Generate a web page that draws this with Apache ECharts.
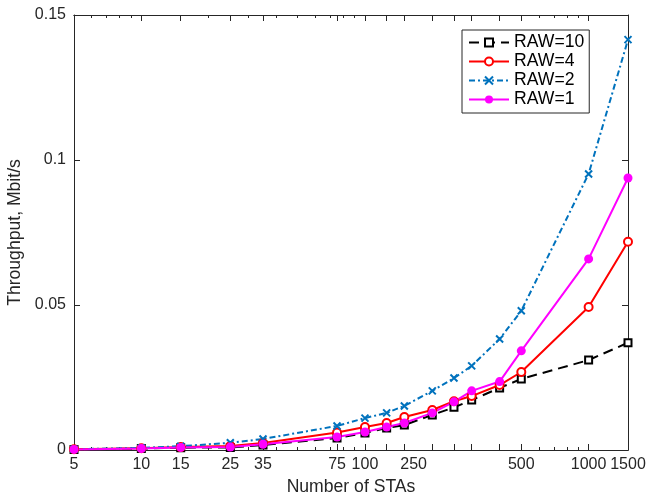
<!DOCTYPE html>
<html>
<head>
<meta charset="utf-8">
<script src="https://cdn.jsdelivr.net/npm/echarts@6/dist/echarts.min.js"></script>
<style>
html, body { margin: 0; padding: 0; background: #fff; }
#chart { width: 653px; height: 497px; }
</style>
</head>
<body>
<div id="chart"></div>
<script>
// throughput vs number of STAs, log x axis

var staCounts = [5, 10, 15, 25, 35, 75, 100, 125, 150, 200, 250, 300, 400, 500, 1000, 1500];
var raw10 = [0.0002, 0.0005, 0.0008, 0.0009, 0.0017, 0.0041, 0.0059, 0.0076, 0.0086, 0.0121, 0.0147, 0.0172, 0.0214, 0.0245, 0.031, 0.037];
var raw4 = [0.0003, 0.0006, 0.001, 0.0014, 0.0024, 0.006, 0.0079, 0.0093, 0.0114, 0.0138, 0.0168, 0.0186, 0.0224, 0.0269, 0.0493, 0.0718];
var raw2 = [0.0003, 0.0007, 0.0013, 0.0025, 0.0038, 0.0083, 0.011, 0.0128, 0.0152, 0.0204, 0.0248, 0.029, 0.0383, 0.048, 0.0952, 0.1415];
var raw1 = [0.0002, 0.0005, 0.0009, 0.001, 0.002, 0.0045, 0.0062, 0.0079, 0.0093, 0.0128, 0.0166, 0.0204, 0.0236, 0.0342, 0.0659, 0.0938];

// tick labels and where they sit (in STAs)
var tickLabels = ['5', '10', '15', '25', '35', '75', '100', '250', '500', '1000', '1500'];
var tickLabelAt = [5, 10, 15, 25, 35, 75, 100, 165, 500, 1000, 1500];
var minorTicks = [6, 7, 8, 9, 20, 30, 40, 50, 60, 70, 80, 90, 200, 600, 700, 800, 900];

var lg = function (v) { return Math.log10(v); };
var xMin = lg(5), xMax = lg(1500);
var axisCol = '#262626';
var font = 'Liberation Sans, Arial, sans-serif';

function pairs(ys) {
    return staCounts.map(function (n, i) { return [lg(n), ys[i]]; });
}

function xAx(pos, ticks, len, labels) {
    return {
        type: 'value', min: xMin, max: xMax, position: pos,
        splitLine: {show: false},
        axisLine: {show: true, onZero: false, lineStyle: {color: axisCol, width: 1}},
        axisTick: {show: true, inside: true, length: len, customValues: ticks.map(lg),
            lineStyle: {color: axisCol, width: 1}},
        axisLabel: labels ? {
            show: true, customValues: tickLabelAt.map(lg), margin: 7,
            color: axisCol, fontSize: 16, fontFamily: font,
            formatter: function (v) {
                for (var i = 0; i < tickLabelAt.length; i++) {
                    if (Math.abs(lg(tickLabelAt[i]) - v) < 1e-6) return tickLabels[i];
                }
                return '';
            }
        } : {show: false}
    };
}

var chart = echarts.init(document.getElementById('chart'));

var bottomMain = xAx('bottom', staCounts, 6, true);
bottomMain.name = 'Number of STAs';
bottomMain.nameLocation = 'middle';
bottomMain.nameGap = 28;
bottomMain.nameTextStyle = {color: axisCol, fontSize: 17.6, fontFamily: font};

chart.setOption({
    animation: false,
    backgroundColor: '#fff',
    grid: {left: 74, right: 25, top: 15, bottom: 47, containLabel: false, outerBoundsMode: 'none'},
    legend: {
        orient: 'vertical', left: 462, top: 30,
        backgroundColor: '#fff', borderColor: axisCol, borderWidth: 1,
        borderRadius: 0,
        padding: [3, 5, 4, 6], itemGap: 0, itemWidth: 40, itemHeight: 10,
        textStyle: {color: '#000', fontSize: 17.6, lineHeight: 19, fontFamily: font},
        data: ['RAW=10', 'RAW=4', 'RAW=2', 'RAW=1']
    },
    xAxis: [
        bottomMain,
        xAx('bottom', minorTicks, 3, false),
        xAx('top', staCounts, 6, false),
        xAx('top', minorTicks, 3, false)
    ],
    yAxis: [
        {
            type: 'value', min: 0, max: 0.15, interval: 0.05, position: 'left',
            name: 'Throughput, Mbit/s', nameLocation: 'middle', nameGap: 40,
            nameTextStyle: {color: axisCol, fontSize: 17.6, fontFamily: font},
            splitLine: {show: false},
            axisLine: {show: true, lineStyle: {color: axisCol, width: 1}},
            axisTick: {show: true, inside: true, length: 6, lineStyle: {color: axisCol}},
            axisLabel: {color: axisCol, fontSize: 16, fontFamily: font, margin: 8}
        },
        {
            type: 'value', min: 0, max: 0.15, interval: 0.05, position: 'right',
            splitLine: {show: false},
            axisLine: {show: true, lineStyle: {color: axisCol, width: 1}},
            axisTick: {show: true, inside: true, length: 6, lineStyle: {color: axisCol}},
            axisLabel: {show: false}
        }
    ],
    series: [
        {
            name: 'RAW=10', type: 'line', data: pairs(raw10),
            symbol: 'emptyRect', symbolSize: 7,
            itemStyle: {color: '#000', borderWidth: 1.5},
            lineStyle: {color: '#000', width: 2, type: [10, 6]}
        },
        {
            name: 'RAW=4', type: 'line', data: pairs(raw4),
            symbol: 'emptyCircle', symbolSize: 8,
            itemStyle: {color: '#ff0000', borderWidth: 1.5},
            lineStyle: {color: '#ff0000', width: 2}
        },
        {
            name: 'RAW=2', type: 'line', data: pairs(raw2),
            symbol: 'path://M0,0L10,10M10,0L0,10', symbolSize: 7,
            itemStyle: {color: '#0072bd', borderColor: '#0072bd', borderWidth: 2},
            lineStyle: {color: '#0072bd', width: 2, type: [6, 3, 2, 3]}
        },
        {
            name: 'RAW=1', type: 'line', data: pairs(raw1),
            symbol: 'circle', symbolSize: 9,
            itemStyle: {color: '#ff00ff'},
            lineStyle: {color: '#ff00ff', width: 2}
        }
    ]
});
</script>
</body>
</html>
